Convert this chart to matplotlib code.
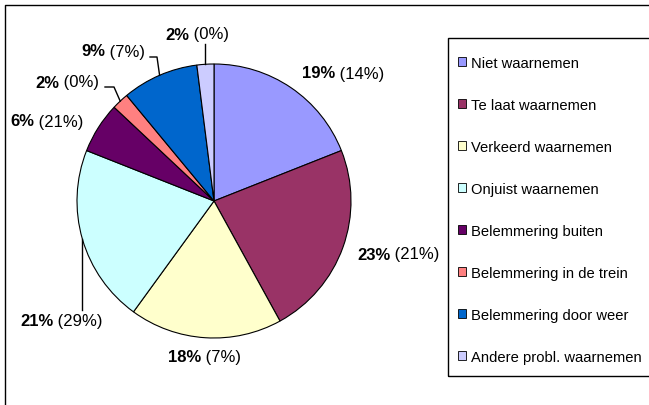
import numpy as np
import matplotlib.pyplot as plt
from matplotlib.patches import Patch, Rectangle

plt.rcParams["font.family"] = ["Liberation Sans", "DejaVu Sans"]

categories = ["Niet waarnemen", "Te laat waarnemen", "Verkeerd waarnemen",
              "Onjuist waarnemen", "Belemmering buiten", "Belemmering in de trein",
              "Belemmering door weer", "Andere probl. waarnemen"]
share = [19, 23, 18, 21, 6, 2, 9, 2]
share_other = [14, 21, 7, 29, 21, 0, 7, 0]
colors = ["#9999FF", "#993366", "#FFFFCC", "#CCFFFF",
          "#660066", "#FF8080", "#0066CC", "#CCCCFF"]

W, H = 649, 406
cx, cy, r = 214, 202, 137

# label anchors (left x, middle y) in image pixels
label_pos = [(302, 74), (357, 255), (168, 358), (20, 322),
             (10, 122), (35, 83), (81, 52), (165, 35)]
# leader line bends (image pixels), None = no leader
leaders = [None, None, None, [(None, 311)], None,
           [(114, 88), (105, 88)], [(157, 58), (150, 58)], [(None, 45)]]

fig = plt.figure(figsize=(W / 100, H / 100), dpi=100)
ax = fig.add_axes([0, 0, 1, 1])
ax.pie(share, colors=colors, startangle=90, counterclock=False,
       center=(cx, H - cy), radius=r,
       wedgeprops=dict(edgecolor="black", linewidth=0.8))
ax.set_xlim(0, W)
ax.set_ylim(0, H)
ax.set_aspect("equal")
ax.axis("off")

# chart frame
ax.plot([5, 5, W + 5], [-5, H - 6, H - 6], color="black", lw=1.0, clip_on=False)

cum = np.cumsum([0] + share[:-1])
for i, (s, o) in enumerate(zip(share, share_other)):
    lx, ly = label_pos[i]
    t1 = ax.text(lx, H - ly, f"{s}%", fontsize=12, fontweight="bold",
                 ha="left", va="center")
    ax.annotate(f" ({o}%)", xy=(1, 0), xycoords=t1, fontsize=12,
                ha="left", va="bottom")
    if leaders[i] is not None:
        mid = np.deg2rad(90 - (cum[i] + s / 2) * 3.6)
        ex, ey = cx + r * np.cos(mid), cy - r * np.sin(mid)
        xs, ys = [ex], [ey]
        for bx, by in leaders[i]:
            xs.append(ex if bx is None else bx)
            ys.append(by)
        ax.plot(xs, [H - y for y in ys], color="black", lw=1.0)

# legend box
ax.add_patch(Rectangle((448, H - 377), 230, 338, facecolor="none",
                       edgecolor="black", lw=1.0, clip_on=False))
handles = [Patch(facecolor=c, edgecolor="black", linewidth=0.6) for c in colors]
leg = fig.legend(handles, categories, loc="upper left",
                 bbox_to_anchor=(458 / W, 1 - 57 / H), fontsize=10.6,
                 frameon=False, labelspacing=1.9, handlelength=0.55,
                 handleheight=0.55, handletextpad=0.35, borderpad=0,
                 borderaxespad=0)

fig.savefig("out.png", dpi=100)
